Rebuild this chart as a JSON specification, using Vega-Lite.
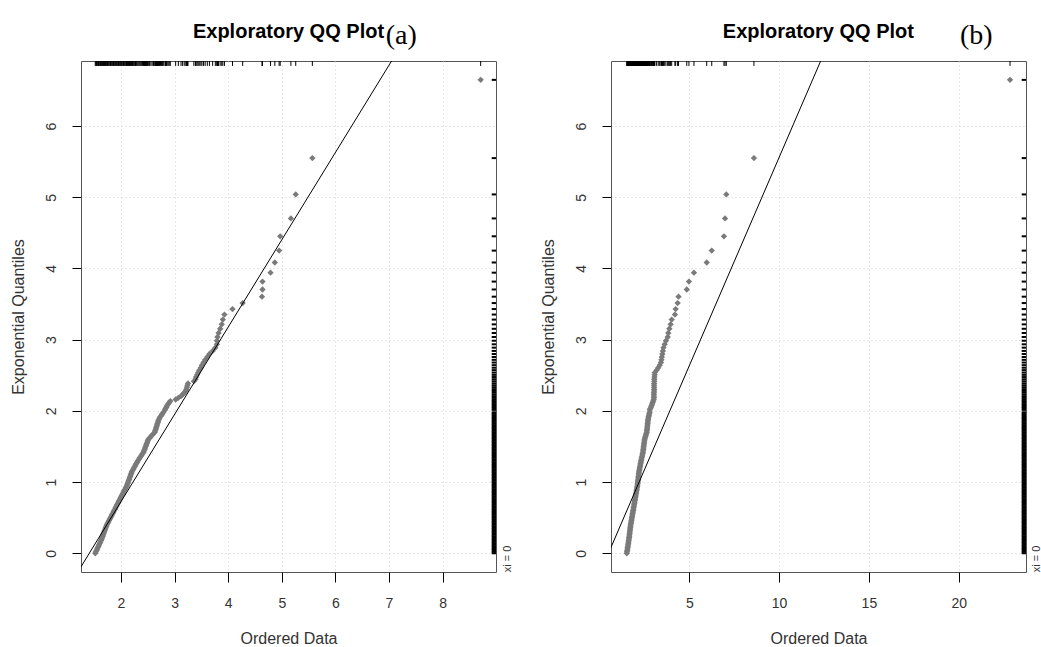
{
  "$schema": "https://vega.github.io/schema/vega-lite/v6.json",
  "background": "white",
  "padding": {"left": 9, "top": 21, "right": 0, "bottom": 0},
  "bounds": "flush",
  "spacing": 115,
  "config": {
    "view": {"stroke": "#555555", "strokeWidth": 1},
    "font": "Liberation Sans",
    "axis": {
      "grid": true, "gridColor": "#cfcfcf", "gridDash": [1, 3], "gridWidth": 1,
      "domain": false, "tickColor": "#000000", "tickWidth": 1, "format": "d",
      "labelFont": "Liberation Sans", "labelFontSize": 14, "labelColor": "#333333",
      "titleFont": "Liberation Sans", "titleFontSize": 16, "titleFontWeight": "normal", "titleColor": "#333333"
    },
    "axisX": {"tickSize": 10, "labelPadding": 25, "labelBaseline": "alphabetic", "titleY": 71, "titleBaseline": "alphabetic"},
    "axisY": {"tickSize": 9, "labelPadding": 17, "labelAngle": 270, "labelAlign": "center", "labelBaseline": "alphabetic", "titleX": -58, "titleY": 255.5, "titleAngle": 270, "titleAlign": "center", "titleBaseline": "alphabetic"}
  },
  "datasets": {
    "pts": [
      {"q":0.00,"a":1.52,"b":1.52},{"q":0.02,"a":1.532,"b":1.532},{"q":0.04,"a":1.544,"b":1.544},{"q":0.06,"a":1.556,"b":1.556},{"q":0.08,"a":1.568,"b":1.568},
      {"q":0.10,"a":1.58,"b":1.58},{"q":0.12,"a":1.592,"b":1.592},{"q":0.14,"a":1.604,"b":1.604},{"q":0.16,"a":1.616,"b":1.616},{"q":0.18,"a":1.628,"b":1.628},
      {"q":0.20,"a":1.64,"b":1.64},{"q":0.22,"a":1.649,"b":1.649},{"q":0.24,"a":1.659,"b":1.659},{"q":0.26,"a":1.668,"b":1.668},{"q":0.28,"a":1.678,"b":1.678},
      {"q":0.30,"a":1.687,"b":1.687},{"q":0.32,"a":1.697,"b":1.697},{"q":0.34,"a":1.706,"b":1.706},{"q":0.36,"a":1.716,"b":1.716},{"q":0.38,"a":1.725,"b":1.725},
      {"q":0.40,"a":1.737,"b":1.737},{"q":0.42,"a":1.75,"b":1.75},{"q":0.44,"a":1.764,"b":1.764},{"q":0.46,"a":1.778,"b":1.778},{"q":0.48,"a":1.792,"b":1.792},
      {"q":0.50,"a":1.805,"b":1.805},{"q":0.52,"a":1.819,"b":1.819},{"q":0.54,"a":1.833,"b":1.833},{"q":0.56,"a":1.846,"b":1.846},{"q":0.58,"a":1.86,"b":1.86},
      {"q":0.60,"a":1.873,"b":1.873},{"q":0.62,"a":1.887,"b":1.887},{"q":0.64,"a":1.9,"b":1.9},{"q":0.66,"a":1.913,"b":1.913},{"q":0.68,"a":1.927,"b":1.927},
      {"q":0.70,"a":1.94,"b":1.94},{"q":0.72,"a":1.953,"b":1.953},{"q":0.74,"a":1.967,"b":1.967},{"q":0.76,"a":1.98,"b":1.98},{"q":0.78,"a":1.994,"b":1.994},
      {"q":0.80,"a":2.007,"b":2.007},{"q":0.82,"a":2.021,"b":2.021},{"q":0.84,"a":2.035,"b":2.035},{"q":0.86,"a":2.048,"b":2.048},{"q":0.88,"a":2.062,"b":2.062},
      {"q":0.90,"a":2.076,"b":2.076},{"q":0.92,"a":2.089,"b":2.089},{"q":0.94,"a":2.103,"b":2.103},{"q":0.96,"a":2.115,"b":2.115},{"q":0.98,"a":2.124,"b":2.124},
      {"q":1.00,"a":2.134,"b":2.134},{"q":1.02,"a":2.143,"b":2.143},{"q":1.04,"a":2.153,"b":2.153},{"q":1.06,"a":2.162,"b":2.162},{"q":1.08,"a":2.172,"b":2.172},
      {"q":1.10,"a":2.181,"b":2.181},{"q":1.12,"a":2.191,"b":2.191},{"q":1.14,"a":2.2,"b":2.2},{"q":1.16,"a":2.214,"b":2.214},{"q":1.18,"a":2.229,"b":2.229},
      {"q":1.20,"a":2.243,"b":2.243},{"q":1.22,"a":2.257,"b":2.257},{"q":1.24,"a":2.271,"b":2.271},{"q":1.26,"a":2.286,"b":2.286},{"q":1.28,"a":2.3,"b":2.3},
      {"q":1.30,"a":2.317,"b":2.317},{"q":1.32,"a":2.334,"b":2.334},{"q":1.34,"a":2.351,"b":2.351},{"q":1.36,"a":2.369,"b":2.369},{"q":1.38,"a":2.386,"b":2.386},
      {"q":1.40,"a":2.403,"b":2.403},{"q":1.42,"a":2.42,"b":2.42},{"q":1.44,"a":2.43,"b":2.43},{"q":1.46,"a":2.44,"b":2.44},{"q":1.48,"a":2.45,"b":2.45},
      {"q":1.50,"a":2.46,"b":2.46},{"q":1.52,"a":2.47,"b":2.47},{"q":1.54,"a":2.48,"b":2.48},{"q":1.56,"a":2.49,"b":2.49},{"q":1.58,"a":2.5,"b":2.5},
      {"q":1.60,"a":2.51,"b":2.51},{"q":1.62,"a":2.534,"b":2.534},{"q":1.64,"a":2.558,"b":2.558},{"q":1.66,"a":2.582,"b":2.582},{"q":1.68,"a":2.606,"b":2.606},
      {"q":1.70,"a":2.63,"b":2.63},{"q":1.72,"a":2.638,"b":2.638},{"q":1.74,"a":2.647,"b":2.647},{"q":1.76,"a":2.655,"b":2.655},{"q":1.78,"a":2.664,"b":2.664},
      {"q":1.80,"a":2.672,"b":2.672},{"q":1.82,"a":2.68,"b":2.68},{"q":1.84,"a":2.689,"b":2.689},{"q":1.86,"a":2.697,"b":2.697},{"q":1.88,"a":2.706,"b":2.706},
      {"q":1.90,"a":2.719,"b":2.719},{"q":1.92,"a":2.737,"b":2.737},{"q":1.94,"a":2.755,"b":2.755},{"q":1.96,"a":2.773,"b":2.773},{"q":1.98,"a":2.79,"b":2.79},
      {"q":2.014,"a":2.82,"b":2.80},{"q":2.034,"a":2.83,"b":2.83},{"q":2.054,"a":2.85,"b":2.87},{"q":2.074,"a":2.86,"b":2.90},{"q":2.095,"a":2.88,"b":2.93},
      {"q":2.116,"a":2.90,"b":2.96},{"q":2.138,"a":2.92,"b":2.99},{"q":2.160,"a":3.02,"b":3.02},{"q":2.183,"a":3.07,"b":3.03},{"q":2.206,"a":3.12,"b":3.03},
      {"q":2.230,"a":3.15,"b":3.03},{"q":2.255,"a":3.18,"b":3.03},{"q":2.280,"a":3.21,"b":3.04},{"q":2.305,"a":3.22,"b":3.04},{"q":2.332,"a":3.23,"b":3.04},
      {"q":2.359,"a":3.24,"b":3.04},{"q":2.386,"a":3.25,"b":3.04},{"q":2.415,"a":3.36,"b":3.05},{"q":2.444,"a":3.39,"b":3.05},{"q":2.475,"a":3.40,"b":3.06},
      {"q":2.506,"a":3.42,"b":3.07},{"q":2.538,"a":3.44,"b":3.08},{"q":2.572,"a":3.46,"b":3.18},{"q":2.606,"a":3.49,"b":3.27},{"q":2.642,"a":3.51,"b":3.35},
      {"q":2.679,"a":3.54,"b":3.42},{"q":2.717,"a":3.57,"b":3.45},{"q":2.757,"a":3.61,"b":3.47},{"q":2.799,"a":3.65,"b":3.50},{"q":2.842,"a":3.71,"b":3.53},
      {"q":2.888,"a":3.76,"b":3.56},{"q":2.935,"a":3.79,"b":3.63},{"q":2.985,"a":3.79,"b":3.70},{"q":3.038,"a":3.80,"b":3.80},{"q":3.094,"a":3.82,"b":3.83},
      {"q":3.153,"a":3.85,"b":3.89},{"q":3.215,"a":3.88,"b":3.96},{"q":3.282,"a":3.90,"b":4.02},{"q":3.353,"a":3.93,"b":4.20},{"q":3.430,"a":4.08,"b":4.24},
      {"q":3.514,"a":4.27,"b":4.35},{"q":3.604,"a":4.63,"b":4.40},{"q":3.705,"a":4.64,"b":4.86},{"q":3.816,"a":4.64,"b":4.98},{"q":3.941,"a":4.79,"b":5.26},
      {"q":4.084,"a":4.87,"b":5.97},{"q":4.251,"a":4.95,"b":6.25},{"q":4.452,"a":4.97,"b":6.93},{"q":4.703,"a":5.17,"b":6.99},{"q":5.040,"a":5.26,"b":7.06},
      {"q":5.550,"a":5.57,"b":8.60},{"q":6.649,"a":8.71,"b":22.86}
    ],
    "lineA": [{"a": 1.0, "q": -0.501}, {"a": 8.0, "q": 8.081}],
    "lineB": [{"b": 0.0, "q": -0.291}, {"b": 13.0, "q": 7.314}],
    "xiA": [{"a": 9.22, "q": -0.08, "t": "xi = 0"}],
    "xiB": [{"b": 24.36, "q": -0.08, "t": "xi = 0"}],
    "tagA": [{"a": 6.94, "q": 7.15, "t": "(a)"}],
    "tagB": [{"b": 20.07, "q": 7.15, "t": "(b)"}],
    "ttlA": [{"a": 5.125, "q": 7.237, "t": "Exploratory QQ Plot"}],
    "ttlB": [{"b": 12.19, "q": 7.237, "t": "Exploratory QQ Plot"}]
  },
  "hconcat": [
    {
      "width": 415, "height": 511,
      "layer": [
        {
          "data": {"name": "pts"},
          "mark": {"type": "point", "shape": "diamond", "filled": true, "color": "#7a7a7a", "size": 40, "opacity": 1},
          "encoding": {
            "x": {"field": "a", "type": "quantitative", "scale": {"domain": [1.254, 8.996], "nice": false, "zero": false}, "axis": {"values": [2, 3, 4, 5, 6, 7, 8], "title": "Ordered Data"}},
            "y": {"field": "q", "type": "quantitative", "scale": {"domain": [-0.263, 6.914], "nice": false, "zero": false}, "axis": {"values": [0, 1, 2, 3, 4, 5, 6], "title": "Exponential Quantiles"}}
          }
        },
        {
          "data": {"name": "pts"},
          "mark": {"type": "rule", "color": "#000000", "strokeWidth": 1},
          "encoding": {
            "x": {"field": "a", "type": "quantitative"},
            "y": {"datum": 6.914, "type": "quantitative"},
            "y2": {"datum": 6.845}
          }
        },
        {
          "data": {"name": "pts"},
          "mark": {"type": "rule", "color": "#000000", "strokeWidth": 2},
          "encoding": {
            "y": {"field": "q", "type": "quantitative"},
            "x": {"datum": 8.916, "type": "quantitative"},
            "x2": {"datum": 8.996}
          }
        },
        {
          "data": {"name": "lineA"},
          "mark": {"type": "line", "color": "#000000", "strokeWidth": 1, "clip": true},
          "encoding": {
            "x": {"field": "a", "type": "quantitative"},
            "y": {"field": "q", "type": "quantitative"}
          }
        },
        {
          "data": {"name": "xiA"},
          "mark": {"type": "text", "angle": 270, "fontSize": 11, "font": "Liberation Sans", "color": "#333333", "align": "center", "baseline": "middle"},
          "encoding": {
            "x": {"field": "a", "type": "quantitative"},
            "y": {"field": "q", "type": "quantitative"},
            "text": {"field": "t"}
          }
        },
        {
          "data": {"name": "ttlA"},
          "mark": {"type": "text", "font": "Liberation Sans", "fontSize": 20, "fontWeight": "bold", "color": "#000000", "align": "center", "baseline": "alphabetic"},
          "encoding": {
            "x": {"field": "a", "type": "quantitative"},
            "y": {"field": "q", "type": "quantitative"},
            "text": {"field": "t"}
          }
        },
        {
          "data": {"name": "tagA"},
          "mark": {"type": "text", "font": "Liberation Serif", "fontSize": 28, "color": "#000000", "align": "left", "baseline": "alphabetic"},
          "encoding": {
            "x": {"field": "a", "type": "quantitative"},
            "y": {"field": "q", "type": "quantitative"},
            "text": {"field": "t"}
          }
        }
      ]
    },
    {
      "width": 415, "height": 511,
      "layer": [
        {
          "data": {"name": "pts"},
          "mark": {"type": "point", "shape": "diamond", "filled": true, "color": "#7a7a7a", "size": 40, "opacity": 1},
          "encoding": {
            "x": {"field": "b", "type": "quantitative", "scale": {"domain": [0.64, 23.75], "nice": false, "zero": false}, "axis": {"values": [5, 10, 15, 20], "title": "Ordered Data"}},
            "y": {"field": "q", "type": "quantitative", "scale": {"domain": [-0.263, 6.914], "nice": false, "zero": false}, "axis": {"values": [0, 1, 2, 3, 4, 5, 6], "title": "Exponential Quantiles"}}
          }
        },
        {
          "data": {"name": "pts"},
          "mark": {"type": "rule", "color": "#000000", "strokeWidth": 1},
          "encoding": {
            "x": {"field": "b", "type": "quantitative"},
            "y": {"datum": 6.914, "type": "quantitative"},
            "y2": {"datum": 6.845}
          }
        },
        {
          "data": {"name": "pts"},
          "mark": {"type": "rule", "color": "#000000", "strokeWidth": 2},
          "encoding": {
            "y": {"field": "q", "type": "quantitative"},
            "x": {"datum": 23.51, "type": "quantitative"},
            "x2": {"datum": 23.75}
          }
        },
        {
          "data": {"name": "lineB"},
          "mark": {"type": "line", "color": "#000000", "strokeWidth": 1, "clip": true},
          "encoding": {
            "x": {"field": "b", "type": "quantitative"},
            "y": {"field": "q", "type": "quantitative"}
          }
        },
        {
          "data": {"name": "xiB"},
          "mark": {"type": "text", "angle": 270, "fontSize": 11, "font": "Liberation Sans", "color": "#333333", "align": "center", "baseline": "middle"},
          "encoding": {
            "x": {"field": "b", "type": "quantitative"},
            "y": {"field": "q", "type": "quantitative"},
            "text": {"field": "t"}
          }
        },
        {
          "data": {"name": "ttlB"},
          "mark": {"type": "text", "font": "Liberation Sans", "fontSize": 20, "fontWeight": "bold", "color": "#000000", "align": "center", "baseline": "alphabetic"},
          "encoding": {
            "x": {"field": "b", "type": "quantitative"},
            "y": {"field": "q", "type": "quantitative"},
            "text": {"field": "t"}
          }
        },
        {
          "data": {"name": "tagB"},
          "mark": {"type": "text", "font": "Liberation Serif", "fontSize": 28, "color": "#000000", "align": "left", "baseline": "alphabetic"},
          "encoding": {
            "x": {"field": "b", "type": "quantitative"},
            "y": {"field": "q", "type": "quantitative"},
            "text": {"field": "t"}
          }
        }
      ]
    }
  ]
}
